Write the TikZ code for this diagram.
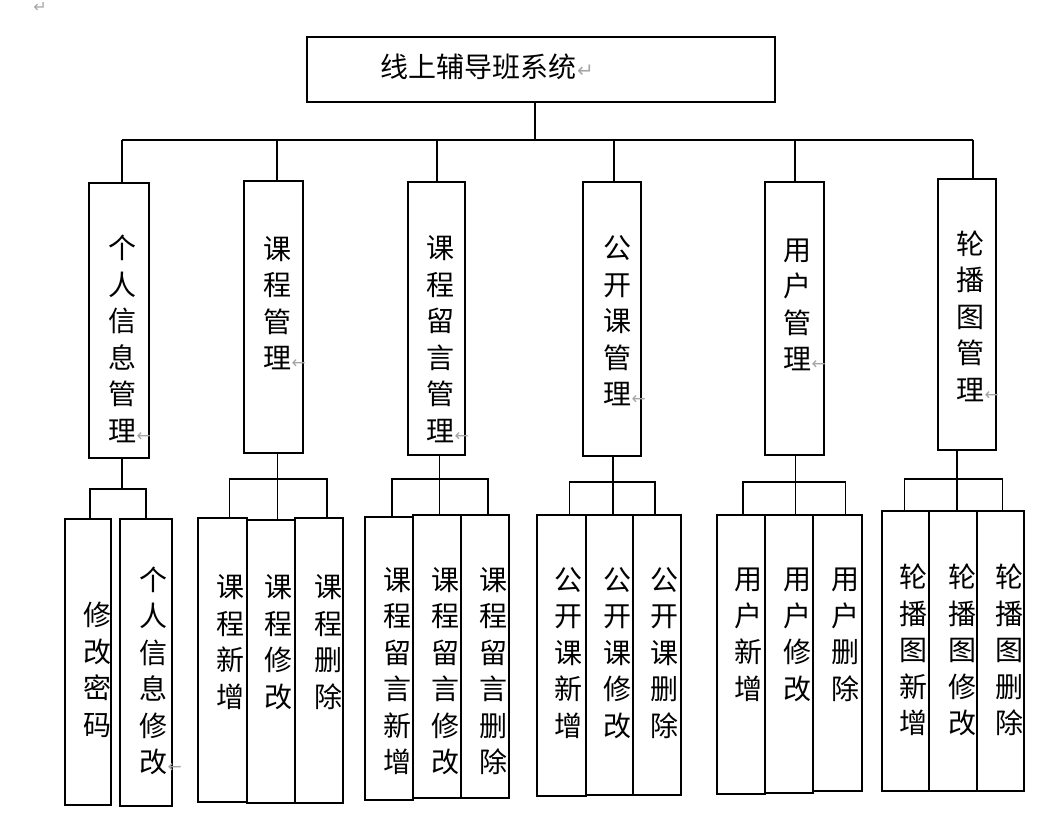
\documentclass[tikz,border=0pt]{standalone}
\usepackage{fontspec}
\newfontfamily\cjk{Noto Sans CJK SC}
\newfontfamily\symf{DejaVu Sans}
\newcommand{\pmark}{\rlap{\kern0.5pt\textcolor{gray!70}{\symf\fontsize{17}{17}\selectfont ←}}}
\newcommand{\retmark}{\rlap{\kern1pt\textcolor{gray!70}{\symf\fontsize{20}{20}\selectfont ↵}}}
\begin{document}
\begin{tikzpicture}[x=1pt,y=-1pt,
  box/.style={draw, line width=1.6pt, inner sep=0pt},
  lbl/.style={align=center, inner sep=0pt, font=\cjk\fontsize{28}{36.5}\selectfont},
  conn/.style={draw=black, line width=1.8pt}]
\useasboundingbox (0,0) rectangle (1064,831);
\node[text=gray!70, font=\symf\fontsize{16}{16}\selectfont, inner sep=0pt] (topmark) at (40,7) {↵};
% title
\node[box, minimum width=468pt, minimum height=65pt] (title) at (541,69.5) {};
\node[lbl] (ttitle) at (478,67) {线上辅导班系统\retmark};
% level 1
\node[box, minimum width=60pt, minimum height=275pt] (a) at (119,320.5) {};
\node[box, minimum width=59pt, minimum height=272pt] (b) at (273.5,317) {};
\node[box, minimum width=57pt, minimum height=273pt] (c) at (436.5,318.5) {};
\node[box, minimum width=58pt, minimum height=274pt] (d) at (612,319) {};
\node[box, minimum width=59pt, minimum height=273pt] (e) at (794.5,318.5) {};
\node[box, minimum width=58pt, minimum height=271pt] (f) at (967,314.5) {};
\node[lbl] (ta) at (122,339) {个\\人\\信\\息\\管\\理\pmark};
\node[lbl] (tb) at (277,303) {课\\程\\管\\理\pmark};
\node[lbl] (tc) at (440,339) {课\\程\\留\\言\\管\\理\pmark};
\node[lbl] (td) at (617,321) {公\\开\\课\\管\\理\pmark};
\node[lbl] (te) at (797,305) {用\\户\\管\\理\pmark};
\node[lbl] (tf) at (970,316) {轮\\播\\图\\管\\理\pmark};
% top connectors
\coordinate (bus) at (0,140);
\draw[conn] ([xshift=-6pt]title.south) -- ([xshift=-6pt]title.south |- bus);
\draw[conn] ([xshift=3pt]a.north |- bus) -- ([xshift=6pt]f.north |- bus);
\draw[conn] ([xshift=3pt]a.north |- bus) -- ([xshift=3pt]a.north);
\draw[conn] ([xshift=3.5pt]b.north |- bus) -- ([xshift=3.5pt]b.north);
\draw[conn] ([xshift=0.5pt]c.north |- bus) -- ([xshift=0.5pt]c.north);
\draw[conn] ([xshift=2pt]d.north |- bus) -- ([xshift=2pt]d.north);
\draw[conn] ([xshift=0.5pt]e.north |- bus) -- ([xshift=0.5pt]e.north);
\draw[conn] ([xshift=6pt]f.north |- bus) -- ([xshift=6pt]f.north);
% level 2 boxes
\node[box, minimum width=46pt, minimum height=286pt] (a1) at (88,662) {};
\node[box, minimum width=52pt, minimum height=287pt] (a2) at (146,662.5) {};
\node[box, minimum width=49pt, minimum height=284pt] (b1) at (222.5,660) {};
\node[box, minimum width=48pt, minimum height=283pt] (b2) at (271,661.5) {};
\node[box, minimum width=48pt, minimum height=285pt] (b3) at (319,660.5) {};
\node[box, minimum width=48pt, minimum height=283pt] (c1) at (389,658.5) {};
\node[box, minimum width=48pt, minimum height=283pt] (c2) at (437,656.5) {};
\node[box, minimum width=48pt, minimum height=283pt] (c3) at (485,656.5) {};
\node[box, minimum width=49pt, minimum height=281pt] (d1) at (561.5,655.5) {};
\node[box, minimum width=47pt, minimum height=280pt] (d2) at (609.5,655) {};
\node[box, minimum width=48pt, minimum height=280pt] (d3) at (657,655) {};
\node[box, minimum width=48pt, minimum height=279pt] (e1) at (741,654.5) {};
\node[box, minimum width=48pt, minimum height=278pt] (e2) at (789,654) {};
\node[box, minimum width=49pt, minimum height=276pt] (e3) at (837.5,653) {};
\node[box, minimum width=47pt, minimum height=280pt] (f1) at (905.5,651) {};
\node[box, minimum width=48pt, minimum height=280pt] (f2) at (953,651) {};
\node[box, minimum width=47pt, minimum height=280pt] (f3) at (1000.5,651) {};
% level 2 texts
\node[lbl] (ta1) at (97,670) {修\\改\\密\\码};
\node[lbl] (ta2) at (153,671) {个\\人\\信\\息\\修\\改\pmark};
\node[lbl] (tb1) at (230,642) {课\\程\\新\\增};
\node[lbl] (tb2) at (278,642) {课\\程\\修\\改};
\node[lbl] (tb3) at (328,642) {课\\程\\删\\除};
\node[lbl] (tc1) at (397,671) {课\\程\\留\\言\\新\\增};
\node[lbl] (tc2) at (445,671) {课\\程\\留\\言\\修\\改};
\node[lbl] (tc3) at (493,671) {课\\程\\留\\言\\删\\除};
\node[lbl] (td1) at (568,653) {公\\开\\课\\新\\增};
\node[lbl] (td2) at (617,653) {公\\开\\课\\修\\改};
\node[lbl] (td3) at (664,653) {公\\开\\课\\删\\除};
\node[lbl] (te1) at (748,635) {用\\户\\新\\增};
\node[lbl] (te2) at (797,635) {用\\户\\修\\改};
\node[lbl] (te3) at (845,635) {用\\户\\删\\除};
\node[lbl] (tf1) at (913,650) {轮\\播\\图\\新\\增};
\node[lbl] (tf2) at (962,650) {轮\\播\\图\\修\\改};
\node[lbl] (tf3) at (1009,650) {轮\\播\\图\\删\\除};
% level 2 connectors
\coordinate (abar) at (122,489);
\draw[conn] ([xshift=3pt]a.south) -- (abar);
\draw[conn] ([xshift=2pt]a1.north) -- ([xshift=2pt]a1.north |- abar) -- (a2.north |- abar) -- (a2.north);
\coordinate (bbar) at (0,479);
\draw[conn] ([xshift=4pt]b.south) -- ([xshift=4pt]b.south |- b2.north);
\draw[conn] ([xshift=7pt]b1.north) -- ([xshift=7pt]b1.north |- bbar) -- ([xshift=8pt]b3.north |- bbar) -- ([xshift=8pt]b3.north);
\coordinate (cbar) at (0,479);
\draw[conn] ([xshift=3pt]c.south) -- ([xshift=3pt]c.south |- c2.north);
\draw[conn] ([xshift=3pt]c1.north) -- ([xshift=3pt]c1.north |- cbar) -- ([xshift=3pt]c3.north |- cbar) -- ([xshift=3pt]c3.north);
\coordinate (dbar) at (0,482);
\draw[conn] ([xshift=1pt]d.south) -- ([xshift=1pt]d.south |- d2.north);
\draw[conn] ([xshift=8pt]d1.north) -- ([xshift=8pt]d1.north |- dbar) -- ([xshift=-2pt]d3.north |- dbar) -- ([xshift=-2pt]d3.north);
\coordinate (ebar) at (0,482);
\draw[conn] ([xshift=1pt]e.south) -- ([xshift=1pt]e.south |- e2.north);
\draw[conn] ([xshift=2pt]e1.north) -- ([xshift=2pt]e1.north |- ebar) -- ([xshift=8pt]e3.north |- ebar) -- ([xshift=8pt]e3.north);
\coordinate (fbar) at (0,479);
\draw[conn] ([xshift=-10pt]f.south) -- ([xshift=-10pt]f.south |- f2.north);
\draw[conn] ([xshift=-1pt]f1.north) -- ([xshift=-1pt]f1.north |- fbar) -- ([xshift=2pt]f3.north |- fbar) -- ([xshift=2pt]f3.north);
\end{tikzpicture}
\end{document}
